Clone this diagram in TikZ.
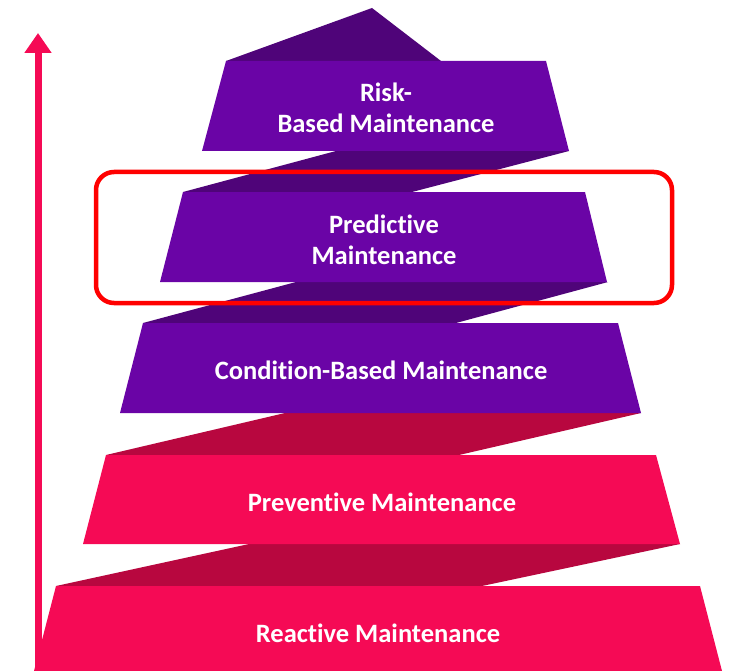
\documentclass[tikz,border=0pt]{standalone}
\usepackage{fontspec}
\setmainfont{Carlito}[Ligatures=NoCommon]
\usetikzlibrary{arrows.meta}
\definecolor{lvpurple}{HTML}{6A04A6}
\definecolor{lvpurpledark}{HTML}{4F0479}
\definecolor{lvpink}{HTML}{F50A55}
\definecolor{lvpinkdark}{HTML}{B8073F}
\begin{document}
\begin{tikzpicture}[x=1pt,y=-1pt]

\tikzset{stepfront/.style={fill=#1}}
\tikzset{stepfold/.style={fill=#1}}
\tikzset{steplabel/.style={text=white,font=\fontsize{26.5}{31}\selectfont\bfseries,align=center}}
\tikzset{highlight/.style={draw=red,line width=4.5pt,rounded corners=18pt}}
\tikzset{uparrow/.style={-{Triangle[width=26pt,length=20pt]},draw=lvpink,line width=7pt}}

\useasboundingbox (0,0) rectangle (738,671);

% folds between the levels
\fill[stepfold=lvpurpledark] (372,8) -- (441,61) -- (226,61) -- cycle;
\fill[stepfold=lvpurpledark] (336,151) -- (569,151) -- (412,192) -- (183,192) -- cycle;
\fill[stepfold=lvpurpledark] (296,282) -- (608,282) -- (456,323) -- (143,323) -- cycle;
\fill[stepfold=lvpinkdark] (285,413) -- (641,413) -- (459,455) -- (106,455) -- cycle;
\fill[stepfold=lvpinkdark] (249,544) -- (680,544) -- (482,586) -- (56,586) -- cycle;

% levels
\fill[stepfront=lvpurple] (226,61) -- (546,61) -- (569,151) -- (202,151) -- cycle;
\fill[stepfront=lvpurple] (183,192) -- (585,192) -- (607,282) -- (160,282) -- cycle;
\fill[stepfront=lvpurple] (143,323) -- (618,323) -- (641,413) -- (120,413) -- cycle;
\fill[stepfront=lvpink] (106,455) -- (656,455) -- (680,544) -- (83,544) -- cycle;
\fill[stepfront=lvpink] (56,586) -- (700,586) -- (722,671) -- (34,671) -- cycle;

\node[steplabel] (risk) at (386,108) {Risk-\\Based Maintenance};
\node[steplabel] (predictive) at (384,240) {Predictive\\Maintenance};
\node[steplabel] (condition) at (381,370) {Condition-Based Maintenance};
\node[steplabel] (preventive) at (382,502) {Preventive Maintenance};
\node[steplabel] (reactive) at (378,633) {Reactive Maintenance};

\draw[highlight] (96,172) rectangle (672,303);

\coordinate (base) at (38,671);
\coordinate (tip) at (38,33);
\draw[uparrow] (base) -- (tip);

\end{tikzpicture}
\end{document}
